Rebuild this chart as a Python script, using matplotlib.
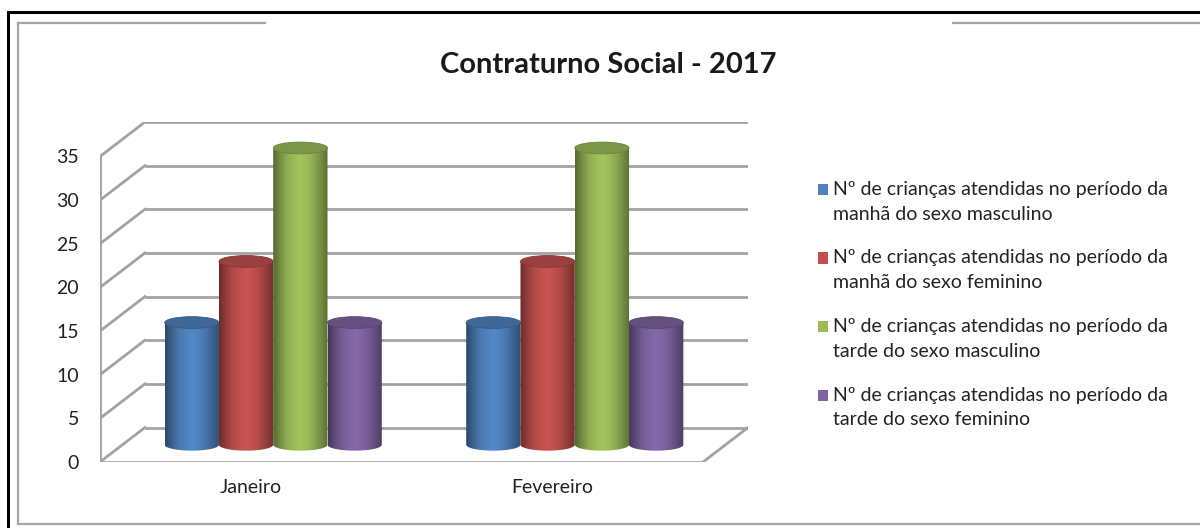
import numpy as np
import matplotlib.pyplot as plt
from matplotlib.patches import Ellipse, Polygon, Rectangle
from matplotlib.lines import Line2D
import matplotlib.colors as mcolors

plt.rcParams['font.family'] = ['Lato', 'DejaVu Sans']

# dados
meses = ['Janeiro', 'Fevereiro']
serie_labels = ['Nº de crianças atendidas no período da\nmanhã do sexo masculino',
                'Nº de crianças atendidas no período da\nmanhã do sexo feminino',
                'Nº de crianças atendidas no período da\ntarde do sexo masculino',
                'Nº de crianças atendidas no período da\ntarde do sexo feminino']
manha_masc = [14, 14]
manha_fem = [21, 21]
tarde_masc = [34, 34]
tarde_fem = [14, 14]
series = [manha_masc, manha_fem, tarde_masc, tarde_fem]
cores = ['#4f81bd', '#c0504d', '#9bbb59', '#8064a2']
yticks = [0, 5, 10, 15, 20, 25, 30, 35]

W, H = 1200, 528
fig = plt.figure(figsize=(W / 100, H / 100), dpi=100)

# molduras
def fx(px):
    return px / W
def fy(py):
    return 1 - py / H

fig.add_artist(Line2D([fx(8), fx(8)], [fy(12), 0], color='black', lw=2.2))
fig.add_artist(Line2D([fx(8), 1], [fy(12), fy(12)], color='black', lw=2.2))
gcol = '#a6a6a6'
fig.add_artist(Line2D([fx(18), fx(18)], [fy(23), fy(524)], color=gcol, lw=1.6))
fig.add_artist(Line2D([fx(18), 1], [fy(524), fy(524)], color=gcol, lw=1.6))
fig.add_artist(Line2D([fx(18), fx(265)], [fy(23), fy(23)], color=gcol, lw=1.6))
fig.add_artist(Line2D([fx(953), 1], [fy(23), fy(23)], color=gcol, lw=1.6))

# eixo 3D simulado
x0, x1 = -0.5, 1.5
dx, dy = 0.149, 3.95
ytop = 35
ax = fig.add_axes([fx(100), fy(462), (748 - 100) / W, (462 - 122) / H])
ax.set_xlim(x0, x1 + dx)
ax.set_ylim(0, ytop + dy)
for s in ax.spines.values():
    s.set_visible(False)

lc = '#a3a3a3'
lw = 2.0
for v in yticks:
    ax.plot([x0 + dx, x1 + dx], [v + dy, v + dy], color=lc, lw=lw, solid_capstyle='butt', zorder=1)
    ax.plot([x0, x0 + dx], [v, v + dy], color=lc, lw=lw, zorder=1)
ax.plot([x0, x0], [0, ytop], color=lc, lw=lw, zorder=1)
ax.plot([x0, x1], [0, 0], color=lc, lw=lw, zorder=1)
ax.plot([x1, x1 + dx], [0, dy], color=lc, lw=lw, zorder=1)

# cilindros
w = 0.18
eh = 1.35  # altura da elipse em unidades do eixo y
base = dy / 2
shade = np.array([0.55, 0.75, 0.92, 1.0, 1.05, 1.0, 0.9, 0.75, 0.6])
xs = np.linspace(0, 1, 200)
prof = np.interp(xs, np.linspace(0, 1, len(shade)), shade)

for i in range(len(meses)):
    for j, vals in enumerate(series):
        cx = i + (j - 1.5) * w + dx / 2
        top = vals[i] + base
        rgb = np.array(mcolors.to_rgb(cores[j]))
        grad = np.clip(prof[:, None] * rgb[None, :], 0, 1)
        t = np.linspace(np.pi, 2 * np.pi, 60)
        pts = [(cx + w / 2 * np.cos(a), base + eh / 2 * np.sin(a)) for a in t]
        pts += [(cx + w / 2, top), (cx - w / 2, top)]
        clip = Polygon(pts, closed=True, transform=ax.transData, facecolor='none', edgecolor='none')
        ax.add_patch(clip)
        im = ax.imshow(grad[None, :, :], extent=(cx - w / 2, cx + w / 2, base - eh / 2, top),
                       aspect='auto', zorder=3 + j * 0.1 + i, interpolation='bilinear')
        im.set_clip_path(clip)
        topc = np.clip(rgb * 0.8, 0, 1)
        ax.add_patch(Ellipse((cx, top), w, eh, facecolor=topc, edgecolor=np.clip(rgb * 0.7, 0, 1),
                             lw=0.6, zorder=3.05 + j * 0.1 + i))

ax.set_xlim(x0, x1 + dx)
ax.set_ylim(0, ytop + dy)

ax.set_yticks(yticks)
ax.set_yticklabels([str(v) for v in yticks], fontsize=14, color='#222222')
ax.set_xticks(range(len(meses)))
ax.set_xticklabels(meses, fontsize=14, color='#222222')
ax.tick_params(axis='y', length=0, pad=15)
ax.tick_params(axis='x', length=0, pad=12)

# titulo
fig.text(fx(608), fy(65), 'Contraturno Social - 2017', fontsize=21, fontweight='bold',
         ha='center', va='center', color='#1a1a1a')

# legenda
for k, lab in enumerate(serie_labels):
    ytxt = 190 + k * 68.5
    fig.add_artist(Rectangle((fx(818), fy(ytxt + 5)), 10 / W, 11 / H, facecolor=cores[k],
                             edgecolor='none', transform=fig.transFigure))
    fig.text(fx(833), fy(ytxt - 9), lab, fontsize=14, ha='left', va='top', color='#222222',
             linespacing=1.55)

fig.savefig('out.png', dpi=100)
